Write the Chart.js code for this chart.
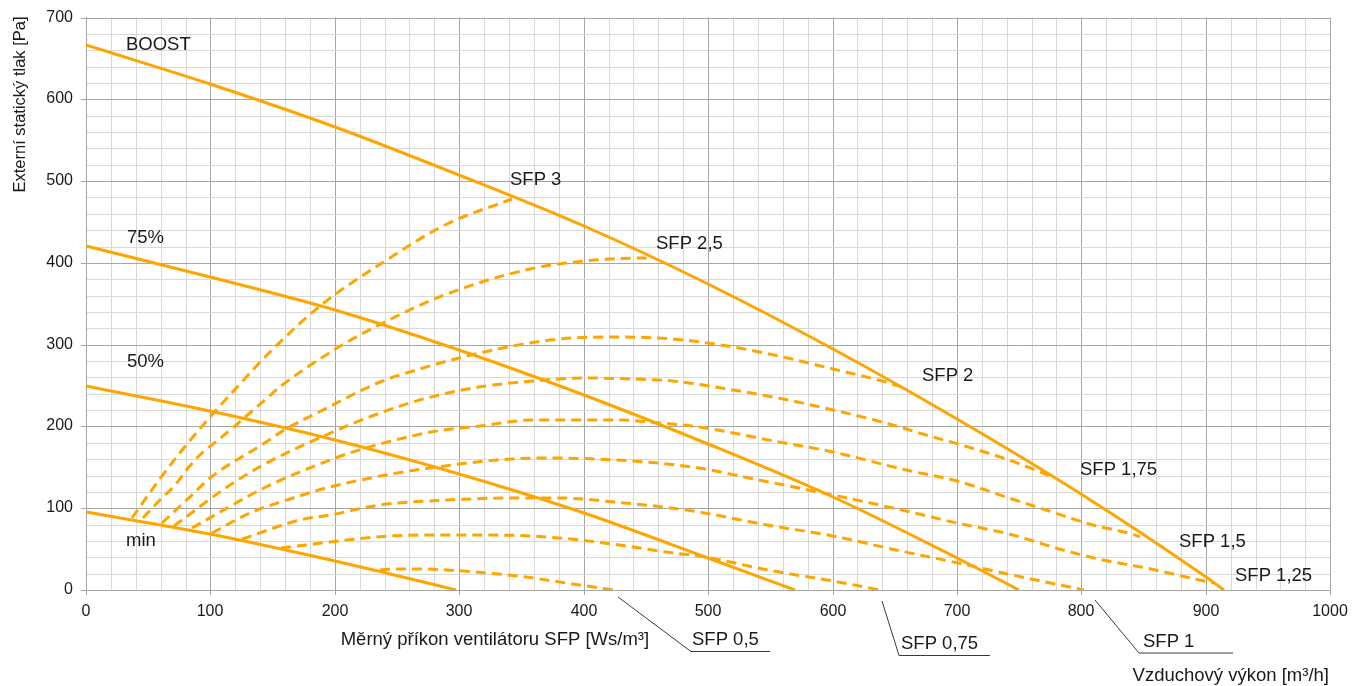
<!DOCTYPE html>
<html lang="cs">
<head>
<meta charset="utf-8">
<title>Pracovní charakteristika – externí statický tlak</title>
<script src="https://cdn.jsdelivr.net/npm/chart.js@4.4.1/dist/chart.umd.min.js"></script>
<style>
  html, body { margin: 0; padding: 0; background: #ffffff; }
  canvas { display: block; }
</style>
</head>
<body>
<canvas id="chart" width="1355" height="686"></canvas>
<script>
// ---- axis tick labels ----
const xTickLabels = [0, 100, 200, 300, 400, 500, 600, 700, 800, 900, 1000];
const yTickLabels = [0, 100, 200, 300, 400, 500, 600, 700];

// ---- fan speed characteristics: airflow [m3/h] -> external static pressure [Pa] ----
const boostX = [0, 100, 200, 300, 400, 500, 600, 700, 800, 900, 915];
const boostP = [666, 619, 566, 508, 445, 374, 295, 209, 117, 16, 0];

const p75X = [0, 100, 200, 300, 400, 500, 600, 700, 750];
const p75P = [421, 383, 343, 293, 239, 178, 114, 39, 0];

const p50X = [0, 100, 200, 300, 400, 500, 570];
const p50P = [250, 219, 183, 142, 94, 39, 0];

const minX = [0, 100, 200, 241, 297];
const minP = [95, 68, 35, 21, 0];

// ---- iso-lines of specific fan power (SFP) ----
const sfp3X = [37, 59, 78, 100, 124, 146, 188, 238, 290, 342];
const sfp3P = [88, 134, 173, 212, 252, 289, 347, 400, 448, 478];

const sfp25X = [46, 58, 72, 82, 93, 106, 120, 133, 145, 157, 199, 231, 290, 357, 400, 448, 455];
const sfp25P = [88, 108, 130, 149, 167, 183, 201, 218, 234, 250, 293, 321, 362, 392, 402, 406, 405];

const sfp2X = [61, 86, 100, 142, 161, 187, 236, 263, 300, 343, 381, 420, 472, 520, 560, 600, 640, 656];
const sfp2P = [82, 118, 137, 179, 197, 218, 254, 268, 284, 299, 307, 309, 307, 297, 285, 270, 256, 248];

const sfp175X = [71, 113, 142, 193, 236, 274, 316, 359, 402, 440, 472, 520, 560, 600, 640, 681, 701, 742, 769, 777];
const sfp175P = [78, 126, 153, 189, 216, 235, 248, 256, 259, 258, 255, 244, 234, 220, 206, 187, 179, 159, 143, 138];

const sfp15X = [85, 145, 196, 222, 236, 277, 317, 359, 397, 429, 461, 493, 557, 600, 659, 700, 742, 774, 809, 841, 847];
const sfp15P = [76, 126, 159, 173, 178, 193, 200, 207.5, 208.5, 207.5, 204, 199, 181, 169, 147, 133, 112, 96, 80, 68, 65];

const sfp125X = [101, 132, 166, 196, 241, 282, 330, 370, 410, 450, 493, 533, 600, 659, 700, 742, 785, 817, 852, 884, 906];
const sfp125P = [70, 94, 112, 126, 141, 151, 159, 161, 160, 157, 149, 137, 116, 96, 82, 68, 49, 37, 27, 16, 9];

const sfp1X = [125, 172, 196, 236, 290, 343, 381, 424, 464, 493, 547, 600, 651, 701, 737, 802];
const sfp1P = [62, 86, 92, 104, 110, 113, 112, 108, 101, 95, 80, 65.5, 49, 33, 21, 0];

const sfp075X = [157, 177, 196, 244, 282, 324, 357, 397, 440, 472, 493, 552, 600, 638];
const sfp075P = [51, 55, 59, 65.5, 67.6, 67.6, 65.5, 61.5, 53, 45, 41, 23, 11, 0];

const sfp05X = [236, 247, 270, 290, 322, 354, 386, 424];
const sfp05P = [24, 26, 26, 24, 21, 16, 9, 0];

// ---- texts ----
const speedNames = ['BOOST', '75%', '50%', 'min'];
const sfpNames = ['SFP 3', 'SFP 2,5', 'SFP 2', 'SFP 1,75', 'SFP 1,5', 'SFP 1,25', 'SFP 1', 'SFP 0,75', 'SFP 0,5'];
const yTitle = 'Externí statický tlak [Pa]';
const xTitle = 'Měrný příkon ventilátoru SFP [Ws/m³]';
const flowTitle = 'Vzduchový výkon [m³/h]';

// ---- build datasets ----
const ORANGE = '#FFA500';
function pts(xs, ps) { return xs.map((x, i) => ({ x: x, y: ps[i] })); }
function line(label, xs, ps, dashed) {
  return {
    label: label,
    data: pts(xs, ps),
    showLine: true,
    borderColor: ORANGE,
    backgroundColor: ORANGE,
    borderWidth: 3,
    borderDash: dashed ? [10, 6] : [],
    borderCapStyle: 'butt',
    pointRadius: 0,
    pointHoverRadius: 0,
    cubicInterpolationMode: 'monotone',
    fill: false
  };
}

const sfpSeries = [
  [sfp3X, sfp3P], [sfp25X, sfp25P], [sfp2X, sfp2P], [sfp175X, sfp175P],
  [sfp15X, sfp15P], [sfp125X, sfp125P], [sfp1X, sfp1P], [sfp075X, sfp075P], [sfp05X, sfp05P]
];
const speedSeries = [[boostX, boostP], [p75X, p75P], [p50X, p50P], [minX, minP]];

const datasets = [];
sfpSeries.forEach((s, i) => datasets.push(line(sfpNames[i], s[0], s[1], true)));
speedSeries.forEach((s, i) => datasets.push(line(speedNames[i], s[0], s[1], false)));

// label anchors in data units (airflow, pressure); text is drawn left-aligned on its baseline
const curveLabelAt = {
  'BOOST': [32.1, 660], '75%': [32.7, 424.6], '50%': [32.7, 272.4], 'min': [32.1, 53.3],
  'SFP 3': [340.6, 495.7], 'SFP 2,5': [458.4, 417.5], 'SFP 2': [672, 256.2],
  'SFP 1,75': [799, 140.6], 'SFP 1,5': [878.2, 52.6], 'SFP 1,25': [923.7, 10.7]
};
// callouts below the axis for the iso-lines ending on zero pressure:
// leader start x, elbow x, shelf end x, text x (data units) and pixel rows below the plot
const callouts = [
  { name: 'SFP 0,5',  x0: 427.5, x1: 486.5, x2: 550.0, tx: 487.3, y0: 597, y1: 651, ty: 645 },
  { name: 'SFP 0,75', x0: 639.9, x1: 653.8, x2: 726.7, tx: 655.4, y0: 601, y1: 655, ty: 649 },
  { name: 'SFP 1',    x0: 811.1, x1: 846.5, x2: 921.6, tx: 849.4, y0: 600, y1: 652.5, ty: 647 }
];

const FONT = '"Liberation Sans", Arial, sans-serif';
const TEXT = '#1a1a1a';

const annotations = {
  id: 'annotations',
  afterDatasetsDraw(chart) {
    const ctx = chart.ctx;
    const xs = chart.scales.x, ys = chart.scales.y;
    ctx.save();
    ctx.fillStyle = TEXT;
    ctx.textAlign = 'left';
    ctx.textBaseline = 'alphabetic';
    ctx.font = '18.5px ' + FONT;
    Object.keys(curveLabelAt).forEach(name => {
      const a = curveLabelAt[name];
      ctx.fillText(name, xs.getPixelForValue(a[0]), ys.getPixelForValue(a[1]));
    });

    // callouts
    ctx.strokeStyle = '#3a3a3a';
    ctx.lineWidth = 1;
    callouts.forEach(c => {
      const p0 = xs.getPixelForValue(c.x0), p1 = xs.getPixelForValue(c.x1), p2 = xs.getPixelForValue(c.x2);
      ctx.beginPath();
      ctx.moveTo(p0, c.y0);
      ctx.lineTo(p1, c.y1 + 0.5);
      ctx.lineTo(p2, c.y1 + 0.5);
      ctx.stroke();
      ctx.fillText(c.name, xs.getPixelForValue(c.tx), c.ty);
    });

    // axis titles
    ctx.fillText(xTitle, 340.7, 645);
    ctx.textAlign = 'right';
    ctx.fillText(flowTitle, 1329, 681);

    ctx.font = '16.5px ' + FONT;
    ctx.textAlign = 'center';
    ctx.textBaseline = 'middle';
    ctx.translate(20.5, 104.5);
    ctx.rotate(-Math.PI / 2);
    ctx.fillText(yTitle, 0, 0);
    ctx.restore();
  }
};

const MAJOR = '#a6a6a6', MINOR = '#d9d9d9';
function gridColor(ctx) { return ctx.tick && ctx.tick.value % 100 === 0 ? MAJOR : MINOR; }
function tickColor(ctx) { return ctx.tick && ctx.tick.value % 100 === 0 ? MAJOR : 'rgba(0,0,0,0)'; }

new Chart(document.getElementById('chart'), {
  type: 'scatter',
  data: { datasets: datasets },
  options: {
    responsive: false,
    animation: false,
    devicePixelRatio: 1,
    layout: { padding: { left: 0, top: 16, right: 24, bottom: 0 } },
    plugins: { legend: { display: false }, tooltip: { enabled: false } },
    events: [],
    scales: {
      x: {
        type: 'linear',
        min: 0, max: 1000,
        alignToPixels: true,
        afterFit(s) { s.height = 96; },
        grid: { color: gridColor, tickColor: tickColor, tickLength: 5, lineWidth: 1 },
        border: { display: true, color: MAJOR },
        ticks: {
          stepSize: 20, autoSkip: false, maxRotation: 0, padding: 7,
          color: TEXT, font: { family: FONT, size: 16 },
          callback: v => xTickLabels.includes(v) ? String(v) : ''
        },
        title: { display: false }
      },
      y: {
        type: 'linear',
        min: 0, max: 700,
        alignToPixels: true,
        afterFit(s) { s.width = 86; },
        grid: { color: gridColor, tickColor: tickColor, tickLength: 5, lineWidth: 1 },
        border: { display: true, color: MAJOR },
        ticks: {
          stepSize: 20, autoSkip: false, padding: 8,
          color: TEXT, font: { family: FONT, size: 16 },
          callback: v => yTickLabels.includes(v) ? String(v) : ''
        },
        title: { display: false }
      }
    }
  },
  plugins: [annotations]
});
</script>
</body>
</html>
